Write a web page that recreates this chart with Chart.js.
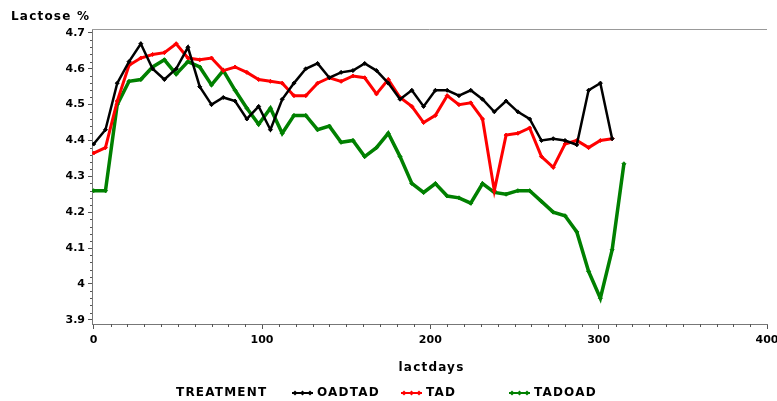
<!DOCTYPE html>
<html>
<head>
<meta charset="utf-8">
<title>Lactose % by lactation day</title>
<script src="https://cdn.jsdelivr.net/npm/chart.js@4/dist/chart.umd.min.js"></script>
<style>
  html, body { margin: 0; padding: 0; background: #fff; }
  #wrap { position: relative; width: 777px; height: 401px; }
</style>
</head>
<body>
<div id="wrap"><canvas id="c" width="777" height="401"></canvas></div>
<script>
// Lactation days at which each weekly mean was recorded
const lactDays = [0, 7, 14, 21, 28, 35, 42, 49, 56, 63, 70, 77, 84, 91, 98, 105, 112, 119, 126, 133,
  140, 147, 154, 161, 168, 175, 182, 189, 196, 203, 210, 217, 224, 231, 238, 245, 252, 259, 266,
  273, 280, 287, 294, 301, 308, 315];

// Mean lactose % per treatment group
const oadtad = [4.39, 4.43, 4.56, 4.62, 4.67, 4.60, 4.57, 4.60, 4.66, 4.55, 4.50, 4.52, 4.51, 4.46,
  4.495, 4.43, 4.515, 4.56, 4.60, 4.615, 4.575, 4.59, 4.595, 4.615, 4.595, 4.56, 4.515, 4.54, 4.495,
  4.54, 4.54, 4.525, 4.54, 4.515, 4.48, 4.51, 4.48, 4.46, 4.40, 4.405, 4.40, 4.388, 4.54, 4.56, 4.405];
const tad = [4.365, 4.38, 4.51, 4.61, 4.63, 4.64, 4.645, 4.67, 4.63, 4.625, 4.63, 4.595, 4.605, 4.59,
  4.57, 4.565, 4.56, 4.525, 4.525, 4.56, 4.575, 4.565, 4.58, 4.575, 4.53, 4.57, 4.52, 4.495, 4.45,
  4.47, 4.525, 4.50, 4.505, 4.46, 4.26, 4.415, 4.42, 4.435, 4.355, 4.325, 4.39, 4.40, 4.38, 4.40, 4.405];
const tadoad = [4.26, 4.26, 4.50, 4.565, 4.57, 4.605, 4.625, 4.585, 4.62, 4.605, 4.555, 4.595, 4.54,
  4.49, 4.445, 4.49, 4.42, 4.47, 4.47, 4.43, 4.44, 4.395, 4.40, 4.355, 4.38, 4.42, 4.355, 4.28, 4.255,
  4.28, 4.245, 4.24, 4.225, 4.28, 4.255, 4.25, 4.26, 4.26, 4.23, 4.20, 4.19, 4.145, 4.035, 3.96,
  4.095, 4.335];

// Axis tick labels
const xTicks = [0, 100, 200, 300, 400];
const yTicks = [3.9, 4.0, 4.1, 4.2, 4.3, 4.4, 4.5, 4.6, 4.7];

const FONT = '"DejaVu Sans", Verdana, sans-serif';

function toPoints(values) {
  return values.map((v, i) => ({ x: lactDays[i], y: v }));
}

function lineSet(label, values, color, width) {
  return {
    label: label,
    data: toPoints(values),
    showLine: true,
    borderColor: color,
    backgroundColor: color,
    borderWidth: width,
    pointStyle: 'rectRot',
    pointRadius: 2,
    pointBorderWidth: 1,
    pointBorderColor: color,
    pointBackgroundColor: color,
    tension: 0
  };
}

// Minor ticks, frame line and the text annotations around the plot
const decorations = {
  id: 'decorations',
  afterDraw(chart) {
    const ctx = chart.ctx;
    const xs = chart.scales.x, ys = chart.scales.y;
    const area = chart.chartArea;
    ctx.save();
    ctx.strokeStyle = '#555';
    ctx.lineWidth = 1;
    ctx.beginPath();
    for (let d = 10; d < 400; d += 10) {
      if (d % 100 === 0) continue;
      const px = Math.round(xs.getPixelForValue(d)) + 0.5;
      ctx.moveTo(px, area.bottom);
      ctx.lineTo(px, area.bottom + 3);
    }
    for (let k = 1; k < 40; k++) {
      if (k % 5 === 0) continue;
      const v = 3.9 + k * 0.02;
      const py = Math.round(ys.getPixelForValue(v)) + 0.5;
      ctx.moveTo(area.left - 2, py);
      ctx.lineTo(area.left, py);
    }
    ctx.stroke();

    // top frame line
    ctx.strokeStyle = '#999';
    ctx.beginPath();
    ctx.moveTo(area.left, area.top + 0.5);
    ctx.lineTo(area.right, area.top + 0.5);
    ctx.stroke();

    ctx.fillStyle = '#000';
    ctx.font = 'bold 12px ' + FONT;
    ctx.textBaseline = 'middle';
    ctx.letterSpacing = '1.2px';

    // vertical axis title
    ctx.textAlign = 'left';
    ctx.fillText('Lactose %', 11, 17);

    // horizontal axis title
    ctx.textAlign = 'center';
    ctx.fillText('lactdays', (area.left + area.right) / 2 + 2, 368);

    // legend
    ctx.textAlign = 'left';
    const ly = 393;
    ctx.fillText('TREATMENT', 176, ly);
    chart.data.datasets.forEach((ds, i) => {
      const x0 = [292, 401, 509][i];
      ctx.strokeStyle = ds.borderColor;
      ctx.fillStyle = ds.borderColor;
      ctx.lineWidth = 2;
      ctx.beginPath();
      ctx.moveTo(x0, ly);
      ctx.lineTo(x0 + 21, ly);
      ctx.stroke();
      [x0 + 3, x0 + 10.5, x0 + 18].forEach(mx => {
        ctx.beginPath();
        ctx.moveTo(mx, ly - 2.5);
        ctx.lineTo(mx + 2.5, ly);
        ctx.lineTo(mx, ly + 2.5);
        ctx.lineTo(mx - 2.5, ly);
        ctx.closePath();
        ctx.fill();
      });
      ctx.fillStyle = '#000';
      ctx.fillText(ds.label, x0 + 25, ly);
    });
    ctx.restore();
  }
};

new Chart(document.getElementById('c'), {
  type: 'scatter',
  data: {
    datasets: [
      lineSet('OADTAD', oadtad, '#000000', 2.5),
      lineSet('TAD', tad, '#ff0000', 3),
      lineSet('TADOAD', tadoad, '#008000', 3.5)
    ]
  },
  options: {
    responsive: false,
    animation: false,
    layout: { padding: { left: 0, right: 10, top: 29, bottom: 0 } },
    plugins: {
      legend: { display: false },
      tooltip: { enabled: false },
      title: { display: false }
    },
    scales: {
      x: {
        type: 'linear',
        min: -1,
        max: 400,
        afterBuildTicks(scale) { scale.ticks = xTicks.map(v => ({ value: v })); },
        afterFit(scale) { scale.height = 77; scale.paddingLeft = 0; scale.paddingRight = 0; },
        ticks: {
          color: '#000',
          font: { family: FONT, weight: 'bold', size: 11 },
          padding: 5,
          maxRotation: 0,
          callback: v => String(v)
        },
        grid: { drawOnChartArea: false, drawTicks: true, tickLength: 5, color: '#555' },
        border: { display: true, color: '#777', width: 1 }
      },
      y: {
        type: 'linear',
        min: 3.888,
        max: 4.711,
        afterBuildTicks(scale) { scale.ticks = yTicks.map(v => ({ value: v })); },
        afterFit(scale) { scale.width = 92; scale.paddingTop = 0; scale.paddingBottom = 0; },
        ticks: {
          color: '#000',
          font: { family: FONT, weight: 'bold', size: 11 },
          padding: 3,
          callback: v => String(Number(v.toFixed(1)))
        },
        grid: { drawOnChartArea: false, drawTicks: true, tickLength: 4, color: '#555' },
        border: { display: true, color: '#777', width: 1 }
      }
    }
  },
  plugins: [decorations]
});
</script>
</body>
</html>
